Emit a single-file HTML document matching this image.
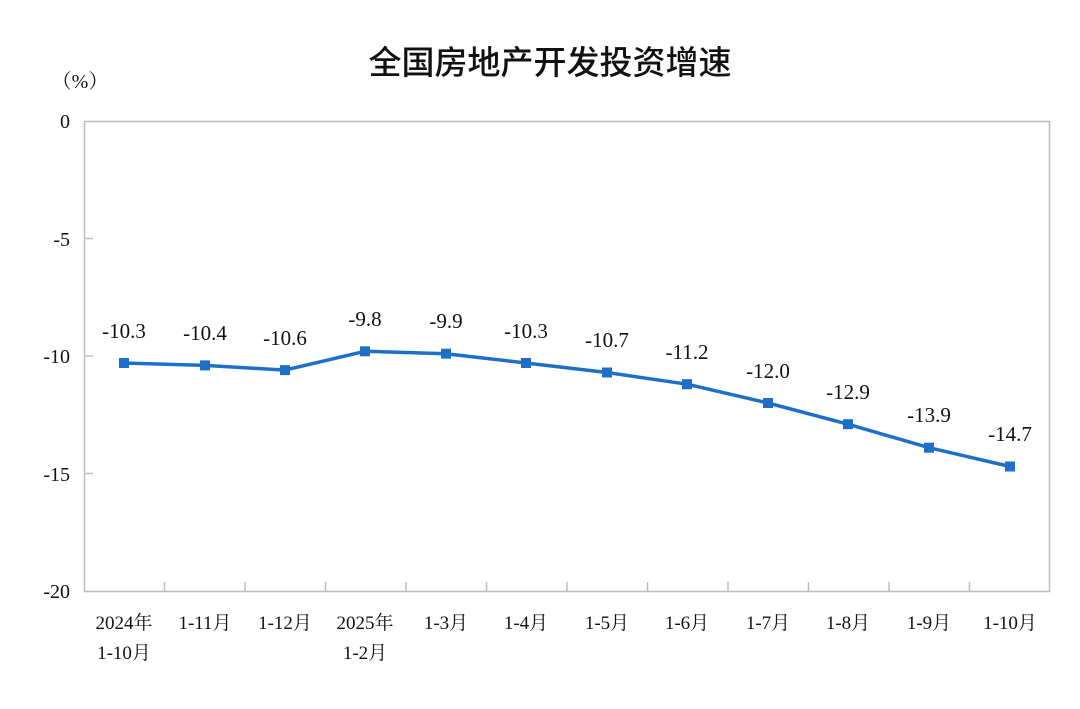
<!DOCTYPE html>
<html><head><meta charset="utf-8"><style>
html,body{margin:0;padding:0;background:#fff;}
svg text{font-family:"Liberation Serif","Noto Serif CJK SC",serif;fill:#111;}
</style></head><body>
<svg width="1080" height="704" viewBox="0 0 1080 704" xmlns="http://www.w3.org/2000/svg">
<text x="550" y="74" font-size="33" text-anchor="middle" style="font-family:'Noto Sans CJK SC','WenQuanYi Zen Hei',sans-serif;font-weight:500">全国房地产开发投资增速</text>
<text x="80" y="88" font-size="20" text-anchor="middle">（%）</text>
<rect x="84.5" y="121.5" width="965" height="470" fill="none" stroke="#bdbdbd" stroke-width="1.5"/>
<g stroke="#bdbdbd" stroke-width="1.5">
<line x1="84" y1="238.5" x2="93" y2="238.5"/>
<line x1="84" y1="356" x2="93" y2="356"/>
<line x1="84" y1="473.5" x2="93" y2="473.5"/>
<line x1="164.5" y1="591" x2="164.5" y2="582"/>
<line x1="245" y1="591" x2="245" y2="582"/>
<line x1="325.5" y1="591" x2="325.5" y2="582"/>
<line x1="406" y1="591" x2="406" y2="582"/>
<line x1="486.5" y1="591" x2="486.5" y2="582"/>
<line x1="567" y1="591" x2="567" y2="582"/>
<line x1="647.5" y1="591" x2="647.5" y2="582"/>
<line x1="728" y1="591" x2="728" y2="582"/>
<line x1="808.5" y1="591" x2="808.5" y2="582"/>
<line x1="889" y1="591" x2="889" y2="582"/>
<line x1="969.5" y1="591" x2="969.5" y2="582"/>
</g>
<g font-size="20" text-anchor="end">
<text x="70" y="128">0</text>
<text x="70" y="246">-5</text>
<text x="70" y="363">-10</text>
<text x="70" y="481">-15</text>
<text x="70" y="598">-20</text>
</g>
<polyline fill="none" stroke="#1e6fc8" stroke-width="3.5" stroke-linejoin="round"
points="124,363 205,365.4 285,370.1 365,351.3 446,353.7 526,363 607,372.5 687,384.2 768,403 848,424.2 929,447.7 1010,466.5"/>
<g fill="#1e6fc8">
<rect x="119" y="358" width="10" height="10"/><rect x="200" y="360.4" width="10" height="10"/>
<rect x="280" y="365.1" width="10" height="10"/><rect x="360" y="346.3" width="10" height="10"/>
<rect x="441" y="348.7" width="10" height="10"/><rect x="521" y="358" width="10" height="10"/>
<rect x="602" y="367.5" width="10" height="10"/><rect x="682" y="379.2" width="10" height="10"/>
<rect x="763" y="398" width="10" height="10"/><rect x="843" y="419.2" width="10" height="10"/>
<rect x="924" y="442.7" width="10" height="10"/><rect x="1005" y="461.5" width="10" height="10"/>
</g>
<g font-size="21" text-anchor="middle">
<text x="124" y="338">-10.3</text><text x="205" y="340">-10.4</text>
<text x="285" y="345">-10.6</text><text x="365" y="326">-9.8</text>
<text x="446" y="328">-9.9</text><text x="526" y="338">-10.3</text>
<text x="607" y="347">-10.7</text><text x="687" y="359">-11.2</text>
<text x="768" y="378">-12.0</text><text x="848" y="399">-12.9</text>
<text x="929" y="422">-13.9</text><text x="1010" y="441">-14.7</text>
</g>
<g font-size="19" text-anchor="middle">
<text x="124" y="629">2024年</text><text x="124" y="659">1-10月</text>
<text x="205" y="629">1-11月</text>
<text x="285" y="629">1-12月</text>
<text x="365" y="629">2025年</text><text x="365" y="659">1-2月</text>
<text x="446" y="629">1-3月</text>
<text x="526" y="629">1-4月</text>
<text x="607" y="629">1-5月</text>
<text x="687" y="629">1-6月</text>
<text x="768" y="629">1-7月</text>
<text x="848" y="629">1-8月</text>
<text x="929" y="629">1-9月</text>
<text x="1010" y="629">1-10月</text>
</g>
</svg>
</body></html>
